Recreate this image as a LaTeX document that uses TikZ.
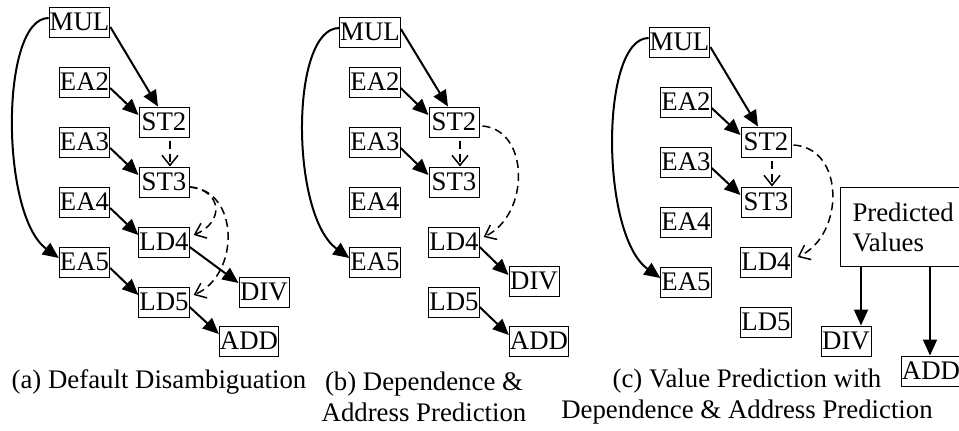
\documentclass[tikz,border=0pt]{standalone}
\usepackage{fontspec}
\setmainfont{Liberation Serif}
\usetikzlibrary{arrows.meta,calc}
\begin{document}
\begin{tikzpicture}[x=0.5pt,y=-0.5pt,
 box/.style={draw, line width=0.5pt, inner xsep=0.3pt, inner ysep=0pt, minimum width=25pt, minimum height=15pt, font=\fontsize{13.4pt}{15pt}\selectfont},
 arr/.style={line width=1pt, -{Triangle[length=8pt,width=7pt]}},
 darr/.style={line width=0.75pt, dash pattern=on 4pt off 2.5pt, -{Straight Barb[length=5pt,width=8pt]}},
 captext/.style={align=center, inner sep=0pt, font=\fontsize{13.4pt}{15.5pt}\selectfont}]
\clip (0,0) rectangle (959,430);
% ---------- panel (a)
\node[box] (aMUL) at (79.5,22) {MUL};
\node[box] (aEA2) at (84.5,82) {EA2};
\node[box] (aST2) at (164,122) {ST2};
\node[box] (aEA3) at (84.5,142) {EA3};
\node[box] (aST3) at (164,182) {ST3};
\node[box] (aEA4) at (84.5,202) {EA4};
\node[box] (aLD4) at (164,242) {LD4};
\node[box] (aEA5) at (84.5,262) {EA5};
\node[box] (aDIV) at (264,292) {DIV};
\node[box] (aLD5) at (164,302) {LD5};
\node[box] (aADD) at (249,341) {ADD};
\node[captext] (acap) at (159,382) {(a) Default Disambiguation};
\draw[arr] ($(aMUL.east)+(0,5)$) -- ($(aST2.north)+(-6,0)$);
\draw[arr] ($(aEA2.east)+(0,6)$) -- ($(aST2.west)+(0,-7)$);
\draw[arr] ($(aEA3.east)+(0,6)$) -- ($(aST3.west)+(0,-7)$);
\draw[arr] ($(aEA4.east)+(0,6)$) -- ($(aLD4.west)+(0,-7)$);
\draw[arr] ($(aEA5.east)+(0,6)$) -- ($(aLD5.west)+(0,-7)$);
\draw[arr] ($(aLD4.east)+(0,5)$) -- ($(aDIV.west)+(0,-9)$);
\draw[arr] ($(aLD5.east)+(0,5)$) -- ($(aADD.west)+(0,-7)$);
\draw[arr] ($(aMUL.west)+(0,-4)$) .. controls (0,18) and (0,215) .. ($(aEA5.west)+(0,-4)$);
\draw[darr] ($(aST2.south)+(6,3)$) -- ($(aST3.north)+(6,0)$);
\draw[darr] ($(aST3.east)+(0,5)$) .. controls (222,190) and (225,222) .. ($(aLD4.east)+(4,-7)$);
\draw[darr] ($(aST3.east)+(0,5)$) .. controls (240,190) and (240,275) .. ($(aLD5.east)+(4,-7)$);
% ---------- panel (b)
\node[box] (bMUL) at (370,32) {MUL};
\node[box] (bEA2) at (375,82) {EA2};
\node[box] (bST2) at (454,122) {ST2};
\node[box] (bEA3) at (375,142) {EA3};
\node[box] (bST3) at (454,182) {ST3};
\node[box] (bEA4) at (375,202) {EA4};
\node[box] (bLD4) at (454,242) {LD4};
\node[box] (bEA5) at (375,262) {EA5};
\node[box] (bDIV) at (534,281) {DIV};
\node[box] (bLD5) at (454,302) {LD5};
\node[box] (bADD) at (539,341) {ADD};
\node[captext] (bcap) at (424,397) {(b) Dependence \&\\Address Prediction};
\draw[arr] ($(bMUL.east)+(0,-3)$) -- ($(bST2.north)+(-6,0)$);
\draw[arr] ($(bEA2.east)+(0,6)$) -- ($(bST2.west)+(0,-7)$);
\draw[arr] ($(bEA3.east)+(0,6)$) -- ($(bST3.west)+(0,-7)$);
\draw[arr] ($(bLD4.east)+(0,5)$) -- ($(bDIV.west)+(0,-6)$);
\draw[arr] ($(bLD5.east)+(0,5)$) -- ($(bADD.west)+(0,-6)$);
\draw[arr] ($(bMUL.west)+(0,-4)$) .. controls (290,28) and (290,215) .. ($(bEA5.west)+(0,-4)$);
\draw[darr] ($(bST2.south)+(6,3)$) -- ($(bST3.north)+(6,0)$);
\draw[darr] ($(bST2.east)+(3,4)$) .. controls (530,130) and (530,215) .. ($(bLD4.east)+(4,-5)$);
% ---------- panel (c)
\node[box] (cMUL) at (679.5,42) {MUL};
\node[box] (cEA2) at (686,102) {EA2};
\node[box] (cST2) at (766,142) {ST2};
\node[box] (cEA3) at (686,162) {EA3};
\node[box] (cST3) at (766,202) {ST3};
\node[box] (cEA4) at (686,222) {EA4};
\node[box] (cLD4) at (766,262) {LD4};
\node[box] (cEA5) at (686,282) {EA5};
\node[box] (cLD5) at (766,322) {LD5};
\node[box] (cDIV) at (846,341) {DIV};
\node[box] (cADD) at (931,371) {ADD};
\node[box, anchor=north west, align=left, text width=53pt, inner xsep=6pt, minimum height=39.5pt] (pred) at (840,187) {Predicted\\Values};
\node[captext] (ccap) at (747,397) {(c) Value Prediction with\\Dependence \& Address Prediction};
\draw[arr] ($(cMUL.east)+(0,5)$) -- ($(cST2.north)+(-8,0)$);
\draw[arr] ($(cEA2.east)+(0,6)$) -- ($(cST2.west)+(0,-7)$);
\draw[arr] ($(cEA3.east)+(0,6)$) -- ($(cST3.west)+(0,-7)$);
\draw[arr] ($(cMUL.west)+(0,-4)$) .. controls (600,38) and (600,235) .. ($(cEA5.west)+(0,-4)$);
\draw[darr] ($(cST2.south)+(6,3)$) -- ($(cST3.north)+(6,0)$);
\draw[darr] ($(cST2.east)+(2,3)$) .. controls (845,148) and (845,235) .. ($(cLD4.east)+(6,-5)$);
\draw[arr] ($(pred.south west)+(21,0)$) -- ($(cDIV.north)+(15,0)$);
\draw[arr] ($(pred.south west)+(90,0)$) -- ($(cADD.north)+(-1,0)$);
\end{tikzpicture}
\end{document}
